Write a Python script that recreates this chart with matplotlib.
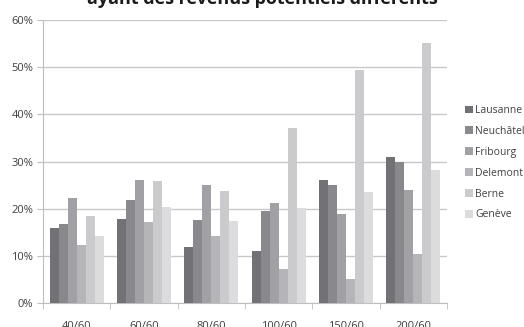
import numpy as np
import matplotlib
matplotlib.use("Agg")
import matplotlib.pyplot as plt
from matplotlib.ticker import PercentFormatter

plt.rcParams["font.family"] = ["Open Sans", "DejaVu Sans"]

categories = ["40/60", "60/60", "80/60", "100/60", "150/60", "200/60"]
cities = ["Lausanne", "Neuchâtel", "Fribourg", "Delemont", "Berne", "Genève"]
lausanne = [15.8, 17.9, 11.9, 11.0, 26.0, 30.9]
neuchatel = [16.7, 21.8, 17.7, 19.4, 25.1, 30.0]
fribourg = [22.3, 26.1, 25.1, 21.1, 18.9, 24.0]
delemont = [12.2, 17.2, 14.3, 7.3, 5.1, 10.3]
berne = [18.4, 25.8, 23.7, 37.0, 49.5, 55.1]
geneve = [14.3, 20.4, 17.3, 20.1, 23.5, 28.1]
series = [lausanne, neuchatel, fribourg, delemont, berne, geneve]

colors = ["#717176", "#89898d", "#a1a1a5", "#b5b5b9", "#cbcbce", "#dcdcde"]

fig = plt.figure(figsize=(5.24, 3.27), dpi=100)
ax = fig.add_axes([43 / 524, 24 / 327, (447 - 43) / 524, (303 - 20) / 327])

x = np.arange(len(categories))
w = 0.8 / 6
for i, (name, vals) in enumerate(zip(cities, series)):
    ax.bar(x - 0.4 + w * (i + 0.5), vals, width=w, color=colors[i], label=name, zorder=3)

ax.set_xlim(-0.5, len(categories) - 0.5)
ax.set_ylim(0, 60)
ax.set_yticks(np.arange(0, 61, 10))
ax.yaxis.set_major_formatter(PercentFormatter(decimals=0))
ax.set_xticks(x)
ax.set_xticklabels(categories)
ax.set_xticks(np.arange(-0.5, len(categories)), minor=True)
ax.tick_params(axis="x", which="major", length=0, pad=13, labelsize=8, colors="#404040")
ax.tick_params(axis="x", which="minor", length=4, color="#bfbfbf", direction="out")
ax.tick_params(axis="y", length=4, color="#bfbfbf", labelsize=8, colors="#404040", pad=3)
ax.grid(axis="y", color="#c8c8c8", linewidth=1, zorder=0)
for s in ["top", "right"]:
    ax.spines[s].set_visible(False)
for s in ["left", "bottom"]:
    ax.spines[s].set_color("#bfbfbf")

ax.legend(
    loc="upper left",
    bbox_to_anchor=(465 / 524, 1 - 105 / 327),
    bbox_transform=fig.transFigure,
    frameon=False,
    fontsize=7.5,
    handlelength=0.75,
    handleheight=0.75,
    handletextpad=0.25,
    labelspacing=0.95,
    labelcolor="#404040",
    borderaxespad=0,
    borderpad=0,
)

fig.text(0.5, 1 - 4.5 / 327, "ayant des revenus potentiels différents",
         ha="center", va="baseline", fontsize=13, fontweight="bold", color="#1a1a1a")

fig.savefig("out.png", dpi=100)
